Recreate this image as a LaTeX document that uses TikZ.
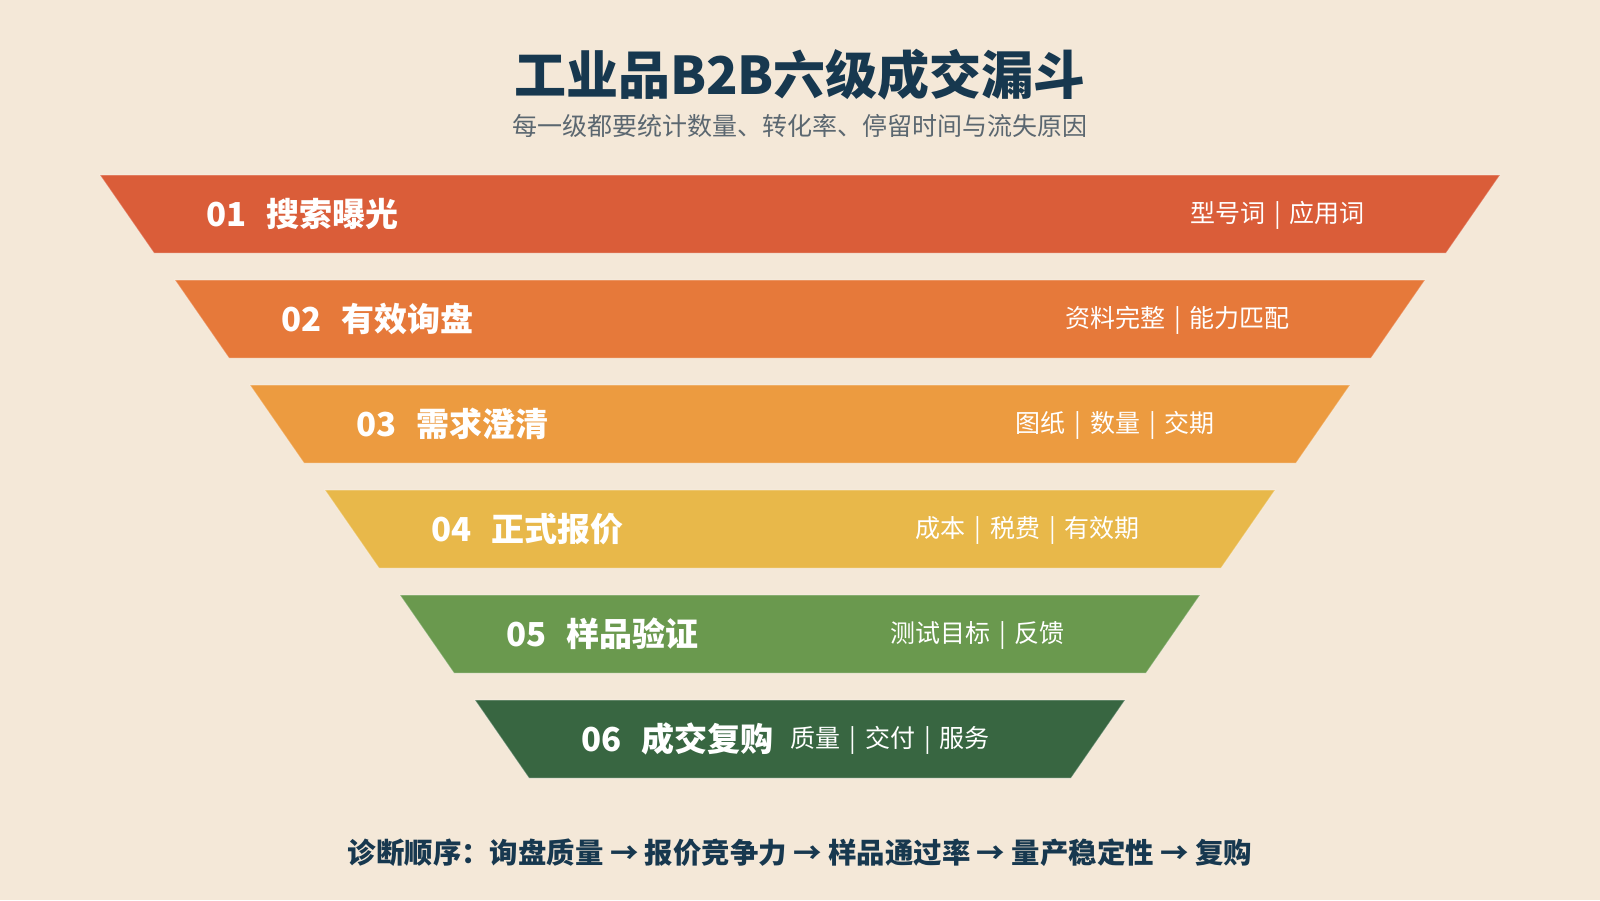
\documentclass[tikz,border=0pt]{standalone}
\usepackage{fontspec}
\setmainfont{Noto Sans CJK SC}
\definecolor{bg}{HTML}{F4E8D8}
\definecolor{navy}{HTML}{17384F}
\definecolor{subgray}{HTML}{5B6770}
\definecolor{c1}{HTML}{DA5D39}
\definecolor{c2}{HTML}{E6793A}
\definecolor{c3}{HTML}{EC9B40}
\definecolor{c4}{HTML}{E8B84A}
\definecolor{c5}{HTML}{6A994E}
\definecolor{c6}{HTML}{386641}
\tikzset{
  band/.style={draw=white, draw opacity=0.3, line width=1pt},
  stagelabel/.style={anchor=west, text=white, font=\fontsize{33}{38}\selectfont\bfseries, inner sep=0pt},
  taglabel/.style={anchor=east, text=white, font=\fontsize{25}{30}\selectfont, inner sep=0pt},
}
\newcommand{\sepbar}{\hspace{9pt}|\hspace{9pt}}
\begin{document}
\begin{tikzpicture}[x=1pt,y=-1pt]
\fill[bg] (0,0) rectangle (1600,900);
\useasboundingbox (0,0) rectangle (1600,900);

\node[text=navy, font=\fontsize{52}{60}\selectfont\bfseries, inner sep=0pt] (title) at (800,75) {工业品B2B六级成交漏斗};
\node[text=subgray, font=\fontsize{25}{30}\selectfont, inner sep=0pt] (subtitle) at (800,126) {每一级都要统计数量、转化率、停留时间与流失原因};

\foreach \i/\col/\num/\name/\tags in {
  1/c1/01/搜索曝光/{型号词\sepbar 应用词},
  2/c2/02/有效询盘/{资料完整\sepbar 能力匹配},
  3/c3/03/需求澄清/{图纸\sepbar 数量\sepbar 交期},
  4/c4/04/正式报价/{成本\sepbar 税费\sepbar 有效期},
  5/c5/05/样品验证/{测试目标\sepbar 反馈},
  6/c6/06/成交复购/{质量\sepbar 交付\sepbar 服务}} {
  \pgfmathsetmacro{\top}{175+105*(\i-1)}
  \pgfmathsetmacro{\bot}{\top+78}
  \pgfmathsetmacro{\xl}{100+75*(\i-1)}
  \pgfmathsetmacro{\xr}{1500-75*(\i-1)}
  \pgfmathsetmacro{\mid}{\top+39}
  \filldraw[band, fill=\col] (\xl,\top) -- (\xr,\top) -- (\xr-54,\bot) -- (\xl+54,\bot) -- cycle;
  \node[stagelabel] (stage\i) at (\xl+106,\mid) {\num\hspace{20pt}\name};
  \node[taglabel] (tags\i) at (\xr-135,\mid+1) {\tags};
}

\node[text=navy, font=\fontsize{28.4}{32}\selectfont\bfseries, inner sep=0pt] (diag) at (800,853) {诊断顺序：询盘质量 → 报价竞争力 → 样品通过率 → 量产稳定性 → 复购};
\end{tikzpicture}
\end{document}
